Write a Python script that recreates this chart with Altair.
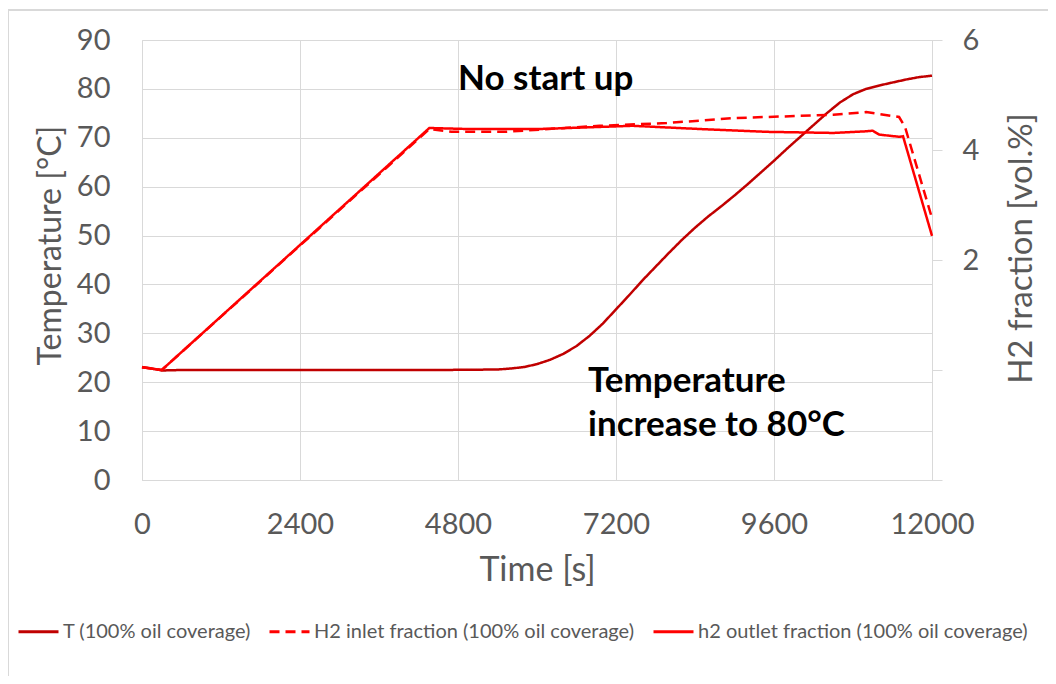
import altair as alt
import pandas as pd

# ---- data ----
series_names = ["T (100% oil coverage)", "H2 inlet fraction (100% oil coverage)", "h2 outlet fraction (100% oil coverage)"]
series_colors = ["#C00000", "#FF0000", "#FF0000"]
series_dash = [[1, 0], [10, 6], [1, 0]]

time_T = [0, 150, 300, 600, 1500, 3000, 4500, 5400, 5600, 5800, 6000, 6200, 6400, 6600, 6800,
          7000, 7200, 7400, 7600, 7800, 8000, 8200, 8400, 8600, 8800, 9000, 9200, 9400, 9600,
          9800, 10000, 10200, 10400, 10600, 10800, 11000, 11200, 11400, 11600, 11800, 12000]
temp_T = [23.1, 22.8, 22.4, 22.5, 22.5, 22.5, 22.5, 22.6, 22.8, 23.1, 23.7, 24.6, 25.8, 27.4, 29.5,
          32.0, 34.9, 37.8, 40.8, 43.6, 46.4, 49.1, 51.6, 53.9, 56.0, 58.2, 60.5, 62.9, 65.3,
          67.8, 70.2, 72.6, 75.0, 77.2, 78.9, 80.0, 80.7, 81.3, 81.9, 82.4, 82.7]

time_in = [0, 300, 4365, 4700, 5500, 6950, 7970, 8970, 10500, 11000, 11500, 11590, 12000]
h2_in = [0.05, 0.0, 4.38, 4.33, 4.33, 4.44, 4.49, 4.58, 4.64, 4.69, 4.60, 4.42, 2.76]

time_out = [0, 300, 4365, 5000, 6000, 7450, 8500, 9500, 10500, 11000, 11100, 11200, 11500, 11560, 12000]
h2_out = [0.05, 0.0, 4.40, 4.38, 4.38, 4.44, 4.38, 4.33, 4.31, 4.34, 4.35, 4.28, 4.24, 4.25, 2.44]

x_ticks = [0, 2400, 4800, 7200, 9600, 12000]
left_ticks = [0, 10, 20, 30, 40, 50, 60, 70, 80, 90]
right_ticks = [-2, 0, 2, 4, 6]

note_text = ["No start up", "Temperature", "increase to 80°C"]
note_time = [4800, 6775, 6775]
note_temp = [82.0, 20.2, 11.2]

# ---- tables ----
df_T = pd.DataFrame({"time": time_T, "value": temp_T, "series": series_names[0]})
df_H = pd.concat([
    pd.DataFrame({"time": time_in, "value": h2_in, "series": series_names[1]}),
    pd.DataFrame({"time": time_out, "value": h2_out, "series": series_names[2]}),
])
df_notes = pd.DataFrame({"time": note_time, "value": note_temp, "text": note_text})

FONT = "Lato"
GREY = "#595959"
GRID = "#D9D9D9"

legend_cfg = dict(title=None, orient="none", direction="horizontal",
                  legendX=-125, legendY=570, symbolType="stroke",
                  symbolSize=1600, symbolStrokeWidth=3, labelFontSize=20,
                  labelFont=FONT, labelColor=GREY, labelLimit=500,
                  columnPadding=12, labelOffset=3)

color_enc = alt.Color("series:N", scale=alt.Scale(domain=series_names, range=series_colors),
                      legend=alt.Legend(**legend_cfg))
dash_enc = alt.StrokeDash("series:N", scale=alt.Scale(domain=series_names, range=series_dash),
                          legend=alt.Legend(**legend_cfg))

x_enc = alt.X("time:Q", scale=alt.Scale(domain=[0, 12000], nice=False),
              axis=alt.Axis(values=x_ticks, format="d", title="Time [s]", grid=True, gridColor=GRID,
                            domainColor=GRID, ticks=False, labelFontSize=29, labelFont=FONT,
                            labelColor=GREY, labelBaseline="middle", labelPadding=44,
                            labelFlush=False,
                            titleFontSize=34, titleFont=FONT, titleColor=GREY, titleFontWeight="normal",
                            titleX=395, titleY=90, titleBaseline="middle", titleAlign="center"))

line_T = alt.Chart(df_T).mark_line(strokeWidth=2.5).encode(
    x=x_enc,
    y=alt.Y("value:Q", scale=alt.Scale(domain=[0, 90], nice=False),
            axis=alt.Axis(values=left_ticks, title="Temperature [°C]", grid=True, gridColor=GRID,
                          domain=False, ticks=False, labelFontSize=29, labelFont=FONT,
                          labelColor=GREY, labelPadding=32, titleFontSize=32, titleFont=FONT,
                          titleColor=GREY, titleFontWeight="normal", titleAngle=270,
                          titleX=-92, titleY=205, titleAlign="center", titleBaseline="middle")),
    color=color_enc,
    strokeDash=dash_enc,
)

line_H = alt.Chart(df_H).mark_line(strokeWidth=2.5).encode(
    x=alt.X("time:Q", scale=alt.Scale(domain=[0, 12000], nice=False)),
    y=alt.Y("value:Q", scale=alt.Scale(domain=[-2, 6], nice=False),
            axis=alt.Axis(orient="right", values=right_ticks, title="H2 fraction [vol.%]",
                          grid=False, domainColor=GRID, tickColor=GRID, tickSize=10,
                          labelExpr="datum.value > 0 ? datum.label : ''",
                          labelFontSize=29, labelFont=FONT, labelColor=GREY, labelPadding=20,
                          labelAlign="left", titleFontSize=33, titleFont=FONT, titleColor=GREY,
                          titleFontWeight="normal", titleAngle=270, titleX=89, titleY=208,
                          titleAlign="center", titleBaseline="middle")),
    color=color_enc,
    strokeDash=dash_enc,
    detail="series:N",
)

notes = alt.Chart(df_notes).mark_text(align="left", baseline="middle", fontSize=35,
                                      fontWeight="bold", font=FONT, color="#000000").encode(
    x=alt.X("time:Q", scale=alt.Scale(domain=[0, 12000], nice=False)),
    y=alt.Y("value:Q", scale=alt.Scale(domain=[0, 90], nice=False), axis=None),
    text="text:N",
)

frame_top = alt.Chart(df_notes).mark_rule(color=GRID, strokeWidth=1.5).encode(
    x=alt.value(-134), x2=alt.value(914), y=alt.value(-30))
frame_left = alt.Chart(df_notes).mark_rule(color=GRID, strokeWidth=1.5).encode(
    x=alt.value(-134), y=alt.value(-30), y2=alt.value(644))

chart = alt.layer(line_T, line_H, notes, frame_top, frame_left).resolve_scale(
    y="independent"
).properties(
    width=790, height=440,
    autosize=alt.AutoSizeParams(type="none"),
    padding={"left": 134, "top": 32, "right": 116, "bottom": 196},
).configure_view(stroke=None).configure(background="white")

chart.save("out.html", embed_options={"renderer": "svg", "actions": False})
